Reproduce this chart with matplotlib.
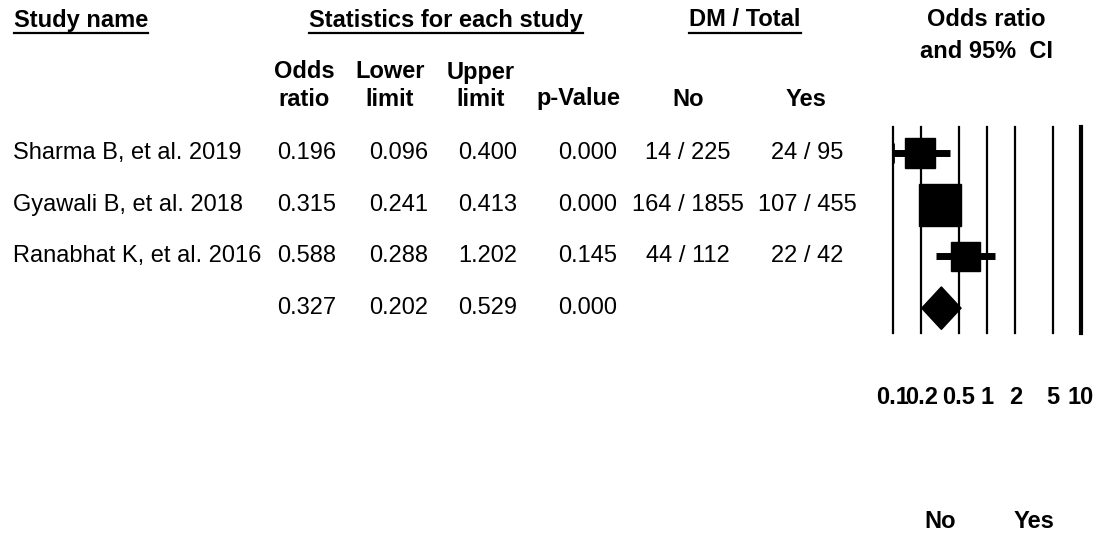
import numpy as np
import matplotlib
matplotlib.use("Agg")
import matplotlib.pyplot as plt

plt.rcParams['font.family'] = ['Liberation Sans', 'DejaVu Sans']

# data
studies = ["Sharma B, et al. 2019", "Gyawali B, et al. 2018", "Ranabhat K, et al. 2016"]
odds = [0.196, 0.315, 0.588]
lower = [0.096, 0.241, 0.288]
upper = [0.400, 0.413, 1.202]
pvals = [0.000, 0.000, 0.145]
dm_no = ["14 / 225", "164 / 1855", "44 / 112"]
dm_yes = ["24 / 95", "107 / 455", "22 / 42"]
pooled = [0.327, 0.202, 0.529, 0.000]   # OR, lower, upper, p
ticks = [0.1, 0.2, 0.5, 1, 2, 5, 10]
tick_labels = ["0.1", "0.2", "0.5", "1", "2", "5", "10"]

# style
box_px = [30, 42, 29]
fs = 17
row0, rowh = 153, 51.7

fig = plt.figure(figsize=(10.96, 5.36), dpi=100)
tax = fig.add_axes([0, 0, 1, 1])
tax.set_xlim(0, 1096)
tax.set_ylim(536, 0)
tax.axis('off')

# headers
hdr = []
hdr.append(tax.text(14, 20, "Study name", fontsize=fs, fontweight='bold', va='center'))
hdr.append(tax.text(446, 20, "Statistics for each study", fontsize=fs, fontweight='bold', ha='center', va='center'))
hdr.append(tax.text(745, 20, "DM / Total", fontsize=fs, fontweight='bold', ha='center', va='center'))
tax.text(986, 20, "Odds ratio", fontsize=fs, fontweight='bold', ha='center', va='center')
tax.text(987, 52, "and 95%  CI", fontsize=fs, fontweight='bold', ha='center', va='center')

sub = [(304, "Odds", "ratio"), (390, "Lower", "limit"), (481, "Upper", "limit"),
       (578, None, "p-Value"), (688, None, "No"), (806, None, "Yes")]
for x, a, b in sub:
    if a:
        tax.text(x, 72, a, fontsize=fs, fontweight='bold', ha='center', va='center')
    tax.text(x, 99, b, fontsize=fs, fontweight='bold', ha='center', va='center')

# rows
for i in range(len(studies)):
    y = row0 + rowh * i
    tax.text(13, y, studies[i], fontsize=fs, va='center')
    tax.text(307, y, f"{odds[i]:.3f}", fontsize=fs, ha='center', va='center')
    tax.text(399, y, f"{lower[i]:.3f}", fontsize=fs, ha='center', va='center')
    tax.text(488, y, f"{upper[i]:.3f}", fontsize=fs, ha='center', va='center')
    tax.text(588, y, f"{pvals[i]:.3f}", fontsize=fs, ha='center', va='center')
    tax.text(688, y, dm_no[i], fontsize=fs, ha='center', va='center')
    tax.text(807, y, dm_yes[i], fontsize=fs, ha='center', va='center')
y = row0 + rowh * 3
for x, v in zip([307, 399, 488, 588], pooled):
    tax.text(x, y, f"{v:.3f}", fontsize=fs, ha='center', va='center')

# underlines
fig.canvas.draw()
inv = tax.transData.inverted()
for t in hdr:
    bb = t.get_window_extent()
    (x0, _), (x1, _) = inv.transform([[bb.x0, bb.y0], [bb.x1, bb.y1]])
    tax.plot([x0, x1], [33, 33], color='black', lw=1.6)

# forest plot
fax = fig.add_axes([893 / 1096, (536 - 333) / 536, 188 / 1096, 206 / 536])
fax.set_xscale('log')
fax.set_xlim(0.1, 10)
fax.set_ylim(3.48, -0.5)
fax.axis('off')
for t in ticks:
    fax.axvline(t, color='black', lw=3 if t == 10 else 1.6, clip_on=False)

for i in range(len(odds)):
    lo = max(lower[i], 0.1)
    fax.plot([lo, upper[i]], [i, i], color='black', lw=5, solid_capstyle='butt', clip_on=False)
    if lower[i] < 0.1:
        fax.plot([0.1], [i], marker='|', ms=14, mew=2, color='black', clip_on=False)
    fax.plot([odds[i]], [i], marker='s', ms=box_px[i] * 0.72, color='black', clip_on=False)

fax.fill([pooled[1], pooled[0], pooled[2], pooled[0]], [3, 3 - 0.41, 3, 3 + 0.41],
         color='black', clip_on=False)

xt = fax.get_xaxis_transform()
for t, lab in zip(ticks, tick_labels):
    fax.text(t, -64 / 206, lab, transform=xt, fontsize=fs, fontweight='bold',
             ha='center', va='center', clip_on=False)
fax.text(np.sqrt(0.1), -189 / 206, "No", transform=xt, fontsize=fs, fontweight='bold',
         ha='center', va='center')
fax.text(np.sqrt(10), -189 / 206, "Yes", transform=xt, fontsize=fs, fontweight='bold',
         ha='center', va='center')

fig.savefig("out.png", dpi=100)
